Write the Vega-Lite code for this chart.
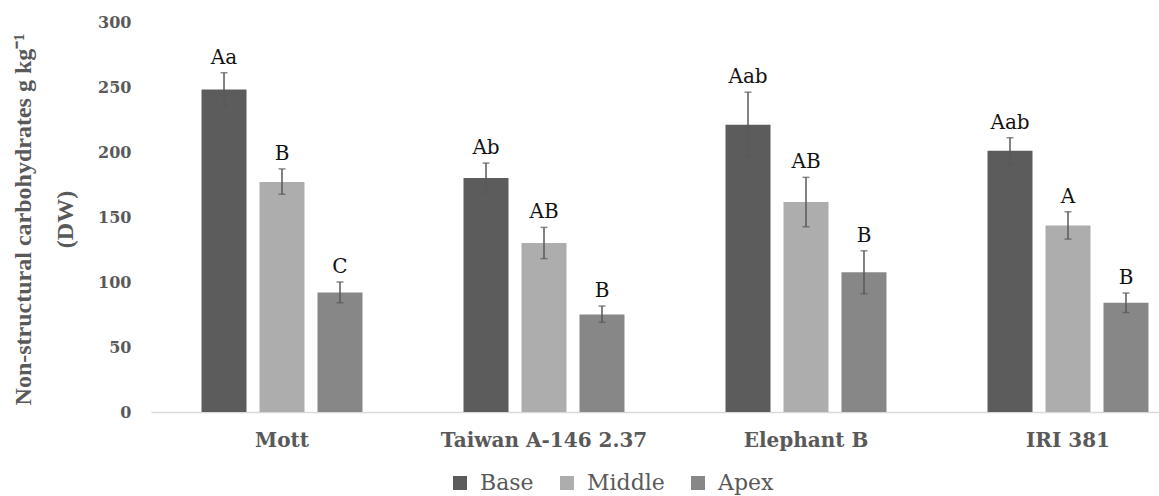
{
  "$schema": "https://vega.github.io/schema/vega-lite/v6.json",
  "width": 1008,
  "height": 390,
  "autosize": {"type": "none"},
  "padding": {"left": 151, "top": 22, "right": 0, "bottom": 84},
  "background": "white",
  "config": {"view": {"stroke": null}, "font": "DejaVu Serif"},
  "data": {
    "values": [
      {"cultivar": "Mott", "part": "Base", "value": 248, "lo": 235, "hi": 261, "group": "Aa"},
      {"cultivar": "Mott", "part": "Middle", "value": 177, "lo": 167.5, "hi": 187, "group": "B"},
      {"cultivar": "Mott", "part": "Apex", "value": 92, "lo": 84, "hi": 100, "group": "C"},
      {"cultivar": "Taiwan A-146 2.37", "part": "Base", "value": 180, "lo": 169, "hi": 191.5, "group": "Ab"},
      {"cultivar": "Taiwan A-146 2.37", "part": "Middle", "value": 130, "lo": 118, "hi": 142, "group": "AB"},
      {"cultivar": "Taiwan A-146 2.37", "part": "Apex", "value": 75, "lo": 69, "hi": 81.5, "group": "B"},
      {"cultivar": "Elephant B", "part": "Base", "value": 221, "lo": 197, "hi": 246, "group": "Aab"},
      {"cultivar": "Elephant B", "part": "Middle", "value": 161.5, "lo": 142.5, "hi": 180.5, "group": "AB"},
      {"cultivar": "Elephant B", "part": "Apex", "value": 107.5, "lo": 91, "hi": 124, "group": "B"},
      {"cultivar": "IRI 381", "part": "Base", "value": 201, "lo": 191, "hi": 211, "group": "Aab"},
      {"cultivar": "IRI 381", "part": "Middle", "value": 143.5, "lo": 133, "hi": 154, "group": "A"},
      {"cultivar": "IRI 381", "part": "Apex", "value": 84, "lo": 76.5, "hi": 91.5, "group": "B"}
    ]
  },
  "encoding": {
    "x": {
      "field": "cultivar",
      "type": "nominal",
      "sort": ["Mott", "Taiwan A-146 2.37", "Elephant B", "IRI 381"],
      "scale": {"range": [0, 1048], "paddingInner": 0.336, "paddingOuter": 0.168},
      "axis": {
        "title": null,
        "labelAngle": 0,
        "labelLimit": 0,
        "labelFont": "DejaVu Serif",
        "labelFontSize": 20,
        "labelFontWeight": "bold",
        "labelColor": "#595959",
        "labelPadding": 18,
        "ticks": false,
        "domainColor": "#d9d9d9",
        "domainWidth": 1.5,
        "grid": false
      }
    },
    "xOffset": {
      "field": "part",
      "type": "nominal",
      "sort": ["Base", "Middle", "Apex"],
      "scale": {"paddingInner": 0.224, "paddingOuter": 0.112}
    }
  },
  "layer": [
    {
      "mark": {"type": "bar"},
      "encoding": {
        "y": {
          "field": "value",
          "type": "quantitative",
          "scale": {"domain": [0, 300]},
          "axis": {
            "values": [0, 50, 100, 150, 200, 250, 300],
            "grid": false,
            "domain": false,
            "ticks": false,
            "labelFont": "DejaVu Serif",
            "labelFontSize": 16,
            "labelFontWeight": "bold",
            "labelColor": "#595959",
            "labelPadding": 20,
            "title": ["Non-structural carbohydrates g kg⁻¹", "(DW)"],
            "titleFont": "Liberation Serif",
            "titleFontSize": 24,
            "titleFontWeight": "bold",
            "titleColor": "#595959",
            "titleLineHeight": 42,
            "titleBaseline": "alphabetic",
            "titleAngle": -90,
            "titleX": -121,
            "titleY": 197
          }
        },
        "color": {
          "field": "part",
          "type": "nominal",
          "scale": {"domain": ["Base", "Middle", "Apex"], "range": ["#5c5c5c", "#adadad", "#878787"]},
          "legend": {
            "orient": "none",
            "legendX": 298,
            "legendY": 450,
            "direction": "horizontal",
            "title": null,
            "symbolType": "square",
            "symbolSize": 196,
            "symbolStrokeWidth": 0,
            "labelFont": "DejaVu Serif",
            "labelFontSize": 22,
            "labelColor": "#595959",
            "labelOffset": 9,
            "columnPadding": 22
          }
        }
      }
    },
    {
      "mark": {"type": "rule", "color": "#595959", "strokeWidth": 1.5},
      "encoding": {
        "y": {"field": "lo", "type": "quantitative"},
        "y2": {"field": "hi"}
      }
    },
    {
      "mark": {"type": "tick", "color": "#595959", "thickness": 1.5, "size": 7, "orient": "horizontal"},
      "encoding": {"y": {"field": "hi", "type": "quantitative"}}
    },
    {
      "mark": {"type": "tick", "color": "#595959", "thickness": 1.5, "size": 7, "orient": "horizontal"},
      "encoding": {"y": {"field": "lo", "type": "quantitative"}}
    },
    {
      "mark": {"type": "text", "baseline": "alphabetic", "dy": -9, "font": "DejaVu Serif", "fontSize": 20, "color": "#111111"},
      "encoding": {
        "y": {"field": "hi", "type": "quantitative"},
        "text": {"field": "group", "type": "nominal"}
      }
    }
  ]
}
